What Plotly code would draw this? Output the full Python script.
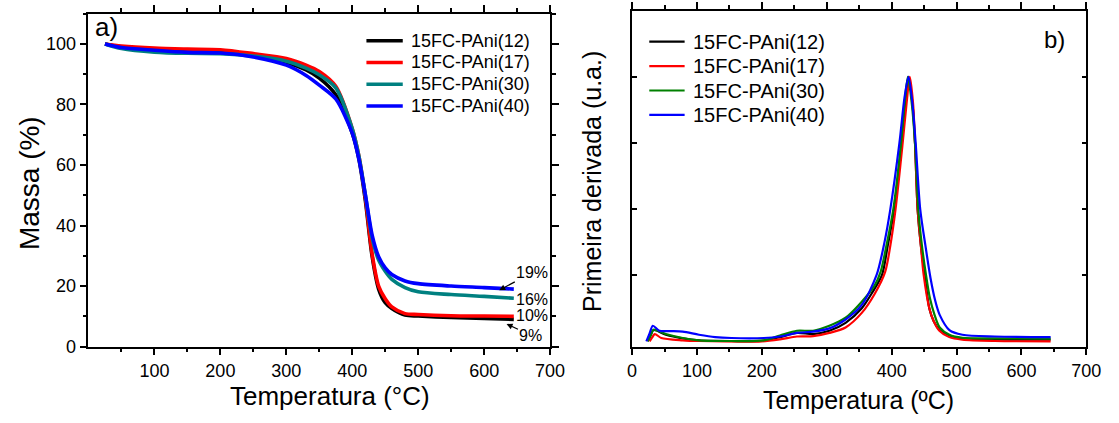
import numpy as np
import plotly.graph_objects as go

W, H = 1119, 423

# ---------------- TGA (panel a) ----------------
tga_temp = [25, 50, 100, 150, 200, 250, 300, 330, 350, 375, 400, 410, 420, 430,
            440, 450, 460, 480, 500, 550, 600, 645]
tga_12 = [100, 99.0, 98.2, 97.9, 97.7, 96.2, 93.9, 91.4, 88.7, 83.2, 70.5, 62.0,
          48.0, 30.0, 19.0, 14.5, 12.6, 10.4, 10.1, 9.6, 9.3, 9.0]
tga_17 = [100, 99.3, 98.6, 98.3, 98.1, 96.8, 95.2, 93.0, 90.9, 86.0, 72.0, 63.0,
          49.0, 30.8, 20.0, 15.8, 13.1, 10.9, 10.6, 10.2, 10.1, 10.0]
tga_30 = [100, 98.5, 97.3, 96.9, 96.8, 96.0, 94.3, 92.0, 89.8, 85.5, 72.0, 63.0,
          50.0, 36.0, 28.6, 24.9, 22.2, 19.5, 18.1, 17.2, 16.6, 16.0]
tga_40 = [100, 98.8, 97.9, 97.2, 97.0, 95.7, 93.0, 89.6, 86.4, 81.8, 70.5, 62.0,
          50.0, 37.0, 29.7, 26.0, 23.8, 21.7, 20.8, 20.0, 19.5, 19.0]

# ---------------- DTG (panel b) ----------------
dtg_t_12 = [24, 29, 33, 52, 78, 103, 153, 203, 228, 254, 279, 304, 329, 354, 369,
            385, 394, 404, 415.5, 421, 426, 432, 436, 440, 445, 451, 458, 465, 474,
            489, 509, 559, 645]
dtg_12 = [0.0, 0.10, 0.17, 0.10, 0.045, 0.015, 0.005, 0.01, 0.064, 0.127, 0.11,
          0.16, 0.28, 0.50, 0.72, 1.0, 1.45, 2.0, 3.0, 3.6, 4.0, 3.6, 3.0, 2.0, 1.45,
          1.0, 0.5, 0.3, 0.17, 0.083, 0.044, 0.03, 0.025]

dtg_t_17 = [27, 31, 35, 45, 78, 103, 200, 228, 254, 279, 304, 329, 354, 374, 390,
            398, 406, 417, 423, 428, 433, 436, 440, 445, 449.4, 458.5, 465, 473.6,
            488.7, 509, 559, 645]
dtg_17 = [0.0, 0.06, 0.11, 0.05, 0.015, 0.005, 0.0, 0.03, 0.073, 0.078, 0.127,
          0.21, 0.43, 0.72, 1.05, 1.45, 2.0, 3.0, 3.6, 4.0, 3.6, 3.0, 2.0, 1.45, 1.0,
          0.48, 0.3, 0.16, 0.064, 0.025, 0.005, 0.0]

dtg_t_30 = [24, 29, 33, 52, 78, 103, 153, 203, 228, 254, 279, 304, 329, 354, 374,
            383, 392, 402.6, 414.5, 420, 425, 431, 436, 441, 446, 453, 459, 465.5,
            474, 489, 509, 559, 645]
dtg_30 = [0.0, 0.10, 0.176, 0.11, 0.05, 0.015, 0.005, 0.015, 0.088, 0.16, 0.16,
          0.235, 0.357, 0.60, 0.85, 1.05, 1.45, 2.0, 3.0, 3.6, 4.0, 3.6, 3.0, 2.0,
          1.5, 1.0, 0.65, 0.42, 0.21, 0.10, 0.054, 0.045, 0.04]

dtg_t_40 = [22, 27, 32, 42, 60, 78, 103, 128, 153, 203, 228, 254, 279, 304, 329,
            354, 376.7, 389, 398, 412, 420, 426, 432, 437, 444, 452, 460, 467, 474,
            489, 509, 559, 645]
dtg_40 = [0.0, 0.12, 0.235, 0.16, 0.155, 0.147, 0.10, 0.064, 0.05, 0.05, 0.073,
          0.127, 0.147, 0.196, 0.33, 0.55, 1.0, 1.5, 2.0, 3.0, 3.7, 4.0, 3.6, 3.0,
          2.0, 1.45, 0.95, 0.62, 0.40, 0.17, 0.10, 0.073, 0.064]

names = ["15FC-PAni(12)", "15FC-PAni(17)", "15FC-PAni(30)", "15FC-PAni(40)"]
tga_colors = ["#000000", "#FF0000", "#008080", "#0000FF"]
dtg_colors = ["#000000", "#FF0000", "#008000", "#0000FF"]

FONT = "Arial, Liberation Sans, sans-serif"


def px_x(p):
    return p / W


def px_y(p):
    return 1 - p / H


fig = go.Figure()

for name, color, vals in zip(names, tga_colors, [tga_12, tga_17, tga_30, tga_40]):
    fig.add_trace(go.Scatter(
        x=tga_temp, y=vals, mode="lines", name=name, showlegend=False,
        line=dict(color=color, width=3.6, shape="spline", smoothing=0.8),
        xaxis="x", yaxis="y"))

for name, color, t, vals in zip(names, dtg_colors,
                                [dtg_t_12, dtg_t_17, dtg_t_30, dtg_t_40],
                                [dtg_12, dtg_17, dtg_30, dtg_40]):
    fig.add_trace(go.Scatter(
        x=t, y=vals, mode="lines", name=name, showlegend=False,
        line=dict(color=color, width=2.2, shape="spline", smoothing=0.8),
        xaxis="x2", yaxis="y2"))

axis_common = dict(showline=True, linecolor="black", linewidth=1.5, mirror="ticks",
                   showgrid=False, zeroline=False, tickcolor="black", tickwidth=1.5,
                   tickfont=dict(family=FONT, size=18, color="black"))
minor_x = dict(tickmode="array", tickvals=[50, 150, 250, 350, 450, 550, 650],
               ticks="outside", ticklen=4, tickwidth=1.5, tickcolor="black")

fig.update_layout(
    width=W, height=H, margin=dict(l=0, r=0, t=0, b=0),
    paper_bgcolor="white", plot_bgcolor="white",
    font=dict(family=FONT, color="black"),
    showlegend=False,
    xaxis=dict(domain=[px_x(85), px_x(555)], range=[0, 700], anchor="y",
               tickmode="array", tickvals=[100, 200, 300, 400, 500, 600, 700],
               ticks="outside", ticklen=7, minor=minor_x, **axis_common),
    yaxis=dict(domain=[px_y(355), px_y(14)], range=[0, 110], anchor="x",
               tickmode="array", tickvals=[0, 20, 40, 60, 80, 100],
               ticks="outside", ticklen=7,
               minor=dict(tickmode="array", tickvals=[10, 30, 50, 70, 90, 110],
                          ticks="outside", ticklen=4, tickwidth=1.5, tickcolor="black"),
               **axis_common),
    xaxis2=dict(domain=[px_x(638.5), px_x(1101)], range=[0, 700], anchor="y2",
                tickmode="array", tickvals=[0, 100, 200, 300, 400, 500, 600, 700],
                ticks="outside", ticklen=7, minor=minor_x, **axis_common),
    yaxis2=dict(domain=[px_y(355), px_y(11)], range=[-0.08, 5.0], anchor="x2",
                tickmode="array", tickvals=[1, 2, 3, 4], ticks="inside", ticklen=5,
                showticklabels=False, **axis_common),
)

# legends: sample line + label for each series
shapes = []
annotations = []
for i, (name, color) in enumerate(zip(names, tga_colors)):
    yy = px_y(41.7 + 22.3 * i)
    shapes.append(dict(type="line", xref="paper", yref="paper",
                       x0=px_x(368), x1=px_x(405), y0=yy, y1=yy,
                       line=dict(color=color, width=3.6)))
    annotations.append(dict(text=name, x=px_x(411), y=yy, xanchor="left",
                            font=dict(size=18)))
for i, (name, color) in enumerate(zip(names, dtg_colors)):
    yy = px_y(42.7 + 25 * i)
    shapes.append(dict(type="line", xref="paper", yref="paper",
                       x0=px_x(656), x1=px_x(692), y0=yy, y1=yy,
                       line=dict(color=color, width=2.2)))
    annotations.append(dict(text=name, x=px_x(698), y=yy, xanchor="left",
                            font=dict(size=20)))

annotations += [
    # axis titles
    dict(text="Massa (%)", x=px_x(25), y=px_y(188), textangle=-90,
         font=dict(size=28)),
    dict(text="Temperatura (°C)", x=px_x(331), y=px_y(406), font=dict(size=26)),
    dict(text="Primeira derivada (u.a.)", x=px_x(597), y=px_y(186), textangle=-90,
         font=dict(size=25)),
    dict(text="Temperatura (ºC)", x=px_x(869), y=px_y(410), font=dict(size=25)),
    # panel labels
    dict(text="a)", x=px_x(103), y=px_y(28), font=dict(size=26)),
    dict(text="b)", x=px_x(1069), y=px_y(40), font=dict(size=24)),
]
for a in annotations:
    a.setdefault("xanchor", "center")
    a.update(xref="paper", yref="paper", showarrow=False, yanchor="middle")
    a["font"].update(family=FONT, color="black")
    fig.add_annotation(**a)

fig.update_layout(shapes=shapes)

# residual mass labels at the end of each curve
pct_font = dict(family=FONT, size=16, color="black")
arrow = dict(showarrow=True, arrowhead=2, arrowsize=1, arrowwidth=1.2,
             arrowcolor="black", axref="x", ayref="y", xref="x", yref="y")
t40 = 623
fig.add_annotation(x=t40, y=float(np.interp(t40, tga_temp, tga_40)) - 0.6,
                   ax=673, ay=24.5, text=f"{tga_40[-1]:.0f}%", font=pct_font, **arrow)
t12 = 634
fig.add_annotation(x=t12, y=float(np.interp(t12, tga_temp, tga_12)) - 1.6,
                   ax=671, ay=3.8, text=f"{tga_12[-1]:.0f}%", font=pct_font, **arrow)
fig.add_annotation(x=673, y=15.5, xref="x", yref="y", showarrow=False,
                   text=f"{tga_30[-1]:.0f}%", font=pct_font)
fig.add_annotation(x=672, y=10.2, xref="x", yref="y", showarrow=False,
                   text=f"{tga_17[-1]:.0f}%", font=pct_font)

fig.write_html("out.html")
